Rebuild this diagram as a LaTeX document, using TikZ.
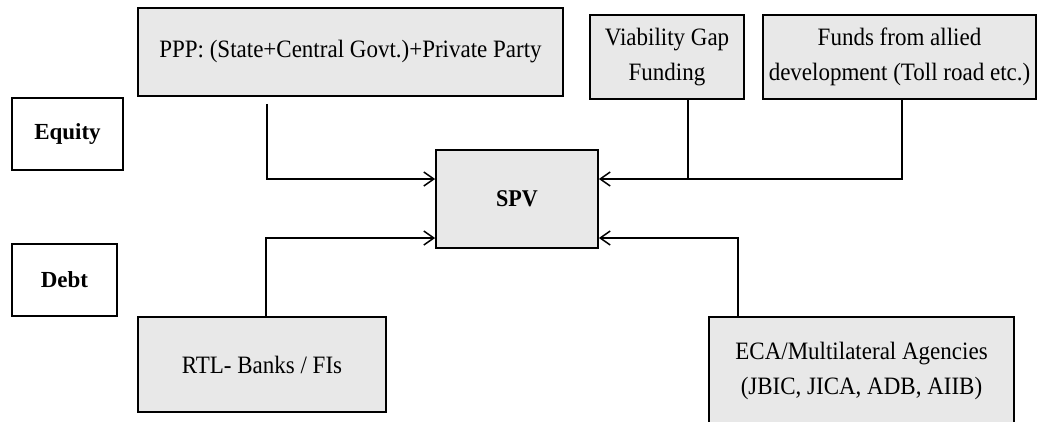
\documentclass[tikz,border=0pt]{standalone}
\usepackage{fontspec}
\setmainfont{Liberation Serif}
\newfontfamily\condfont[FakeStretch=0.92]{Liberation Serif}
\usetikzlibrary{arrows.meta,calc}
\definecolor{boxgray}{RGB}{232,232,232}
\begin{document}
\begin{tikzpicture}[x=1pt,y=-1pt,
  gbox/.style={draw=black,line width=1.8pt,fill=boxgray,inner sep=0pt,align=center,font=\condfont\fontsize{25}{35}\selectfont},
  lbox/.style={draw=black,line width=1.8pt,fill=white,inner sep=0pt,align=center,font=\fontsize{23}{27}\selectfont\bfseries},
  conn/.style={line width=1.8pt},
  arr/.style={conn,-{Straight Barb[length=10pt,width=14pt,line width=1.5pt]}}]
\useasboundingbox (0,0) rectangle (1038,421);
\fill[white] (0,0) rectangle (1038,421);
% nodes
\node[gbox,minimum width=425pt,minimum height=88pt] (ppp) at (350.5,52) {PPP: (State+Central Govt.)+Private Party};
\node[lbox,minimum width=111pt,minimum height=72pt] (equity) at (67.5,134) {Equity};
\node[gbox,minimum width=154pt,minimum height=84pt] (vgf) at (667,57) {Viability Gap\\Funding};
\node[gbox,minimum width=273pt,minimum height=84pt] (funds) at (899.5,57) {Funds from allied\\development (Toll road etc.)};
\node[gbox,minimum width=162pt,minimum height=98pt,font=\condfont\fontsize{24}{27}\selectfont\bfseries] (spv) at (517,199) {SPV};
\node[lbox,minimum width=105pt,minimum height=72pt] (debt) at (64.5,280) {Debt};
\node[gbox,minimum width=248pt,minimum height=95pt] (rtl) at (262,364.5) {RTL- Banks / FIs};
\node[gbox,minimum width=305pt,minimum height=108pt] (eca) at (861.5,371) {ECA/Multilateral Agencies\\(JBIC, JICA, ADB, AIIB)};
% helper coordinates
\coordinate (pstart) at ([xshift=-83.5pt,yshift=-7pt]ppp.south);
\coordinate (eqin) at ([yshift=20pt]spv.west);
\coordinate (dbin) at ([yshift=-39pt]spv.west);
\coordinate (eqin2) at ([yshift=20pt]spv.east);
\coordinate (dbin2) at ([yshift=-39pt]spv.east);
% connectors
\draw[arr] (pstart) |- (eqin);
\draw[arr] ([xshift=4pt]rtl.north) |- (dbin);
\draw[arr] ([xshift=2.5pt]funds.south) |- (eqin2);
\draw[conn] ([xshift=21pt]vgf.south) -- ([xshift=21pt]vgf.south |- eqin2);
\draw[arr] ([xshift=-123.5pt]eca.north) |- (dbin2);
\end{tikzpicture}
\end{document}
